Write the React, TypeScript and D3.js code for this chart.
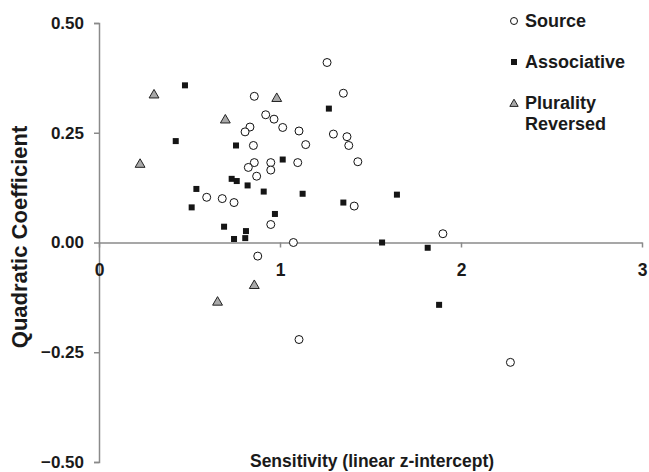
import React, { useEffect, useRef } from 'react';
import * as d3 from 'd3';

// values
const sourceX = [1.26, 1.35, 1.295, 1.37, 1.38, 1.142, 1.43, 1.41, 1.9, 0.858, 0.921, 0.967, 0.834, 0.807, 1.015, 1.105, 0.853, 0.858, 0.825, 0.949, 0.949, 0.871, 1.098, 0.595, 0.681, 0.746, 0.949, 1.074, 0.877, 1.105, 2.273];
const sourceY = [0.41, 0.34, 0.247, 0.241, 0.221, 0.223, 0.184, 0.083, 0.02, 0.333, 0.291, 0.281, 0.263, 0.252, 0.262, 0.254, 0.221, 0.182, 0.171, 0.182, 0.165, 0.151, 0.182, 0.103, 0.1, 0.091, 0.041, 0.0, -0.031, -0.221, -0.273];

const assocX = [1.27, 1.125, 1.35, 1.646, 1.564, 1.816, 0.475, 0.424, 0.757, 1.015, 0.733, 0.761, 0.821, 0.91, 0.538, 0.512, 0.972, 0.691, 0.812, 0.808, 0.746, 1.879];
const assocY = [0.305, 0.111, 0.091, 0.109, 0.0, -0.012, 0.358, 0.231, 0.221, 0.189, 0.145, 0.14, 0.13, 0.116, 0.122, 0.08, 0.065, 0.036, 0.026, 0.01, 0.008, -0.142];

const pluralX = [0.304, 0.227, 0.982, 0.698, 0.858, 0.655];
const pluralY = [0.338, 0.18, 0.33, 0.281, -0.096, -0.134];

const xTicks = [0, 1, 2, 3];
const yTicks = [-0.5, -0.25, 0, 0.25, 0.5];

const W = 649;
const H = 472;
const FONT = '"Liberation Sans", Arial, Helvetica, sans-serif';
const AXIS = '#8a8a8a';

export default function App() {
  const svgRef = useRef<SVGSVGElement>(null);

  useEffect(() => {
    const svg = d3.select(svgRef.current);
    svg.selectAll('*').remove();

    const x = d3.scaleLinear().domain([0, 3]).range([99, 642]);
    const y = d3.scaleLinear().domain([-0.5, 0.5]).range([462, 23]);

    // y axis
    const yAxis = svg.append('g').attr('transform', `translate(${x(0)},0)`)
      .call(d3.axisLeft(y).tickValues(yTicks).tickSize(5).tickFormat(d3.format('.2f')));
    yAxis.select('.domain').attr('stroke', AXIS).attr('stroke-width', 1.5);
    yAxis.selectAll('.tick line').attr('stroke', AXIS).attr('stroke-width', 1.5);
    yAxis.selectAll('.tick text')
      .attr('x', -15)
      .attr('fill', '#1a1a1a')
      .style('font-family', FONT)
      .style('font-weight', 'bold')
      .style('font-size', '17px');

    // x axis sits on y = 0
    const xAxis = svg.append('g').attr('transform', `translate(0,${y(0)})`)
      .call(d3.axisBottom(x).tickValues(xTicks).tickSize(5).tickSizeOuter(0).tickFormat(d3.format('d')));
    xAxis.select('.domain').attr('stroke', AXIS).attr('stroke-width', 1.5);
    xAxis.selectAll('.tick line').attr('stroke', AXIS).attr('stroke-width', 1.5);
    xAxis.selectAll('.tick text')
      .attr('y', 21)
      .attr('fill', '#1a1a1a')
      .style('font-family', FONT)
      .style('font-weight', 'bold')
      .style('font-size', '17.5px');

    // axis titles
    svg.append('text')
      .attr('transform', `translate(27,237) rotate(-90)`)
      .attr('text-anchor', 'middle')
      .attr('fill', '#1a1a1a')
      .style('font-family', FONT)
      .style('font-weight', 'bold')
      .style('font-size', '22px')
      .text('Quadratic Coefficient');

    svg.append('text')
      .attr('x', 372)
      .attr('y', 467)
      .attr('text-anchor', 'middle')
      .attr('fill', '#1a1a1a')
      .style('font-family', FONT)
      .style('font-weight', 'bold')
      .style('font-size', '17.5px')
      .text('Sensitivity (linear z-intercept)');

    const pts = (xs: number[], ys: number[]) => xs.map((v, i) => ({ x: v, y: ys[i] }));

    // Source: open circles
    svg.append('g').selectAll('circle')
      .data(pts(sourceX, sourceY))
      .join('circle')
      .attr('cx', d => x(d.x))
      .attr('cy', d => y(d.y))
      .attr('r', 4)
      .attr('fill', '#fff')
      .attr('stroke', '#111')
      .attr('stroke-width', 1);

    // Associative: black squares
    const sq = 6;
    svg.append('g').selectAll('rect')
      .data(pts(assocX, assocY))
      .join('rect')
      .attr('x', d => x(d.x) - sq / 2)
      .attr('y', d => y(d.y) - sq / 2)
      .attr('width', sq)
      .attr('height', sq)
      .attr('fill', '#151515');

    // Plurality reversed: grey triangles
    const tri = d3.symbol().type(d3.symbolTriangle).size(42);
    svg.append('g').selectAll('path')
      .data(pts(pluralX, pluralY))
      .join('path')
      .attr('d', tri)
      .attr('transform', d => `translate(${x(d.x)},${y(d.y) + 1})`)
      .attr('fill', '#a9a9a9')
      .attr('stroke', '#222')
      .attr('stroke-width', 1);

    // legend
    const lg = svg.append('g').style('font-family', FONT).style('font-weight', 'bold').style('font-size', '18px');
    lg.append('circle').attr('cx', 514).attr('cy', 21).attr('r', 3.5)
      .attr('fill', '#fff').attr('stroke', '#111').attr('stroke-width', 1);
    lg.append('text').attr('x', 525).attr('y', 27).attr('fill', '#1a1a1a').text('Source');

    lg.append('rect').attr('x', 511).attr('y', 59).attr('width', 6).attr('height', 6).attr('fill', '#151515');
    lg.append('text').attr('x', 525).attr('y', 68).attr('fill', '#1a1a1a').text('Associative');

    lg.append('path').attr('d', d3.symbol().type(d3.symbolTriangle).size(30)())
      .attr('transform', 'translate(514,104)')
      .attr('fill', '#a9a9a9').attr('stroke', '#222').attr('stroke-width', 1);
    lg.append('text').attr('x', 525).attr('y', 109).attr('fill', '#1a1a1a').text('Plurality');
    lg.append('text').attr('x', 525).attr('y', 130).attr('fill', '#1a1a1a').text('Reversed');
  }, []);

  return (
    <svg
      ref={svgRef}
      width={W}
      height={H}
      style={{ position: 'absolute', left: 0, top: 0, background: '#fff' }}
    />
  );
}
